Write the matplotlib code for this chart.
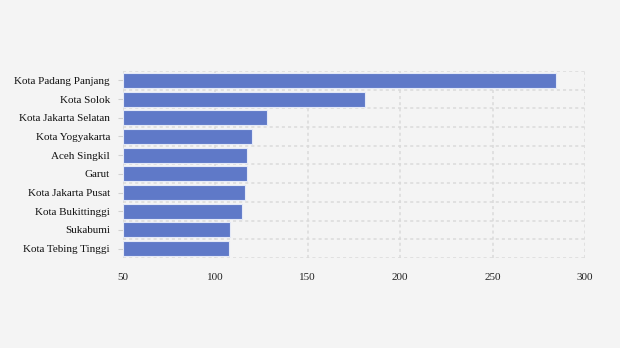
import numpy as np
import matplotlib.pyplot as plt

daerah = ['Kota Padang Panjang', 'Kota Solok', 'Kota Jakarta Selatan', 'Kota Yogyakarta',
          'Aceh Singkil', 'Garut', 'Kota Jakarta Pusat', 'Kota Bukittinggi',
          'Sukabumi', 'Kota Tebing Tinggi']
nilai = [284.3, 180.9, 127.8, 119.7, 117.0, 117.0, 115.9, 114.3, 107.8, 107.2]
x_ticks = [50, 100, 150, 200, 250, 300]

plt.rcParams['font.family'] = ['Liberation Serif', 'DejaVu Serif']

fig = plt.figure(figsize=(6.2, 3.48), dpi=100, facecolor='#f4f4f4')
ax = fig.add_axes([0.1984, 0.2586, 0.745, 0.5374], facecolor='#f4f4f4')

y = np.arange(len(daerah))
inicio = x_ticks[0]
ax.barh(y, np.array(nilai) - inicio, left=inicio, height=0.8,
        color='#5f79c8', edgecolor='#e4e9f7', linewidth=0.8, zorder=3)

ax.set_xlim(x_ticks[0], x_ticks[-1])
ax.set_ylim(len(daerah) - 0.5, -0.5)
ax.set_xticks(x_ticks)
ax.set_xticklabels([str(v) for v in x_ticks])
ax.set_yticks(y)
ax.set_yticklabels(daerah)
ax.set_yticks(np.arange(-0.5, len(daerah)), minor=True)

ax.grid(True, axis='x', which='major', color='#dadada', linestyle=(0, (2, 2)), linewidth=1.1, zorder=0)
ax.grid(True, axis='y', which='minor', color='#dadada', linestyle=(0, (2, 2)), linewidth=1.1, zorder=0)
ax.grid(False, axis='y', which='major')

for s in ax.spines.values():
    s.set_visible(False)

ax.tick_params(axis='x', length=0, pad=10.5, labelsize=8, labelcolor='#222222')
ax.tick_params(axis='y', which='major', length=3.6, color='#d0d0d0', pad=5.8, labelsize=8, labelcolor='#111111')
ax.tick_params(axis='y', which='minor', length=0)

fig.savefig('out.png', dpi=100, facecolor=fig.get_facecolor())
